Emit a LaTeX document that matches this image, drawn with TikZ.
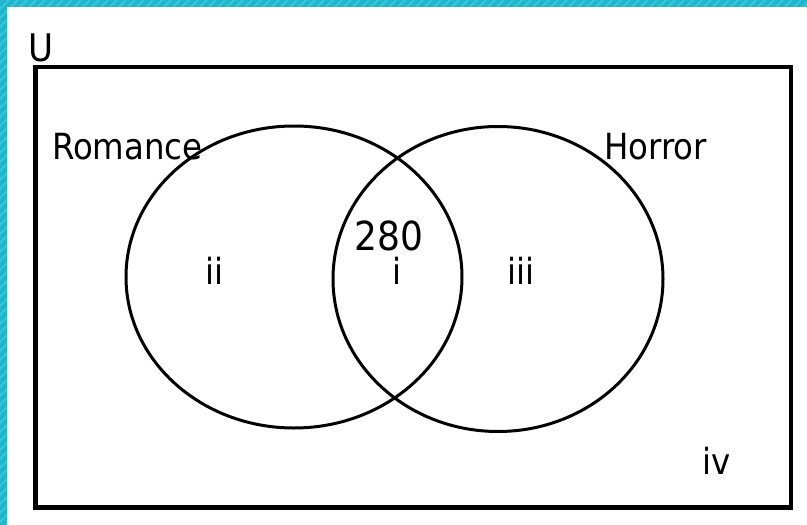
\documentclass[tikz,border=0pt]{standalone}
\usepackage{fontspec}
\setmainfont{DejaVu Sans Condensed}
\usetikzlibrary{shapes.geometric}
\definecolor{bandcyan}{HTML}{1DB6CB}
\definecolor{stripecyan}{HTML}{3DC4D7}
\tikzset{
  setcircle/.style={draw, ellipse, line width=3pt, inner sep=0pt},
  regiontext/.style={font=\fontsize{36}{40}\selectfont, inner sep=0pt},
}
\begin{document}
\begin{tikzpicture}[x=1pt,y=-1pt]
	\useasboundingbox (0,0) rectangle (807,525);
	% Page band
	\fill[bandcyan] (0,0) rectangle (807,525);
	\begin{scope}
		\clip (0,0) -- (807,0) -- (807,7) -- (7,7) -- (7,525) -- (0,525) -- cycle;
		\foreach \k in {0,9,...,1350}
			\draw[stripecyan, line width=2pt] (\k,0) -- ++(-540,540);
	\end{scope}
	\fill[white] (7,7) rectangle (807,525);

	% Universe
	\draw[line width=4.5pt] (35.5,67) rectangle (791,507.5);
	\node[regiontext, font=\fontsize{38}{42}\selectfont, anchor=base] (universe) at (41,61) {U};

	% Sets
	\node[setcircle, minimum width=336, minimum height=302] (romance) at (294,277) {};
	\node[setcircle, minimum width=330, minimum height=305] (horror) at (498,279) {};
	\node[regiontext, anchor=base west] (romancelabel) at (52,159) {Romance};
	\node[regiontext, anchor=base west] (horrorlabel) at (604,159) {Horror};

	% Regions
	\node[regiontext, anchor=base] (regionii) at (214,284) {ii};
	\node[regiontext, anchor=base] (regioni) at (397,284) {i};
	\node[regiontext, anchor=base] (regioniii) at (521,284) {iii};
	\node[regiontext, anchor=base] (regioniv) at (717,474) {iv};
	\node[regiontext, font=\fontsize{40}{44}\selectfont, anchor=base] (count) at (389,250) {280};
\end{tikzpicture}
\end{document}
